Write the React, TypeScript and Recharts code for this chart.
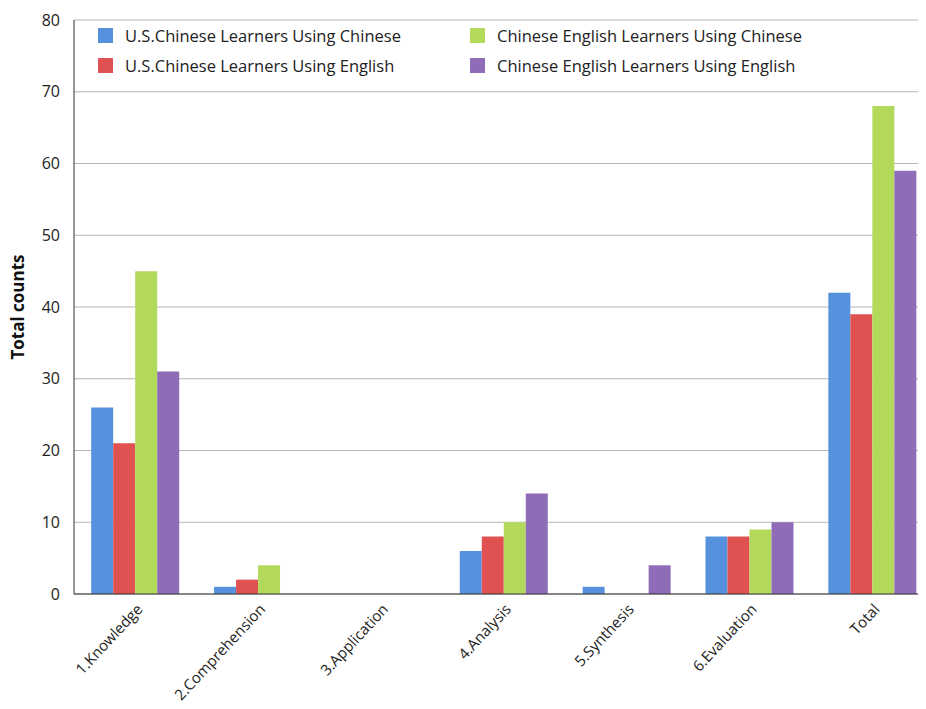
import React from 'react';
import { Bar, BarChart, CartesianGrid, XAxis, YAxis } from 'recharts';

/** Bloom levels on the x axis */
const LEVELS = ['1.Knowledge', '2.Comprehension', '3.Application', '4.Analysis', '5.Synthesis', '6.Evaluation', 'Total'];

const usChinese = [26, 1, 0, 6, 1, 8, 42];
const usEnglish = [21, 2, 0, 8, 0, 8, 39];
const ceChinese = [45, 4, 0, 10, 0, 9, 68];
const ceEnglish = [31, 0, 0, 14, 4, 10, 59];

const Y_TICKS = [0, 10, 20, 30, 40, 50, 60, 70, 80];

const SERIES = [
  { key: 'usChinese', name: 'U.S.Chinese Learners Using Chinese', color: '#5591dd' },
  { key: 'usEnglish', name: 'U.S.Chinese Learners Using English', color: '#e05252' },
  { key: 'ceChinese', name: 'Chinese English Learners Using Chinese', color: '#b3d95b' },
  { key: 'ceEnglish', name: 'Chinese English Learners Using English', color: '#8e6cb8' },
];

const FONT = '"Open Sans", "DejaVu Sans", sans-serif';

const data = LEVELS.map((level, i) => ({
  level,
  usChinese: usChinese[i],
  usEnglish: usEnglish[i],
  ceChinese: ceChinese[i],
  ceEnglish: ceEnglish[i],
}));

// legend sits inside the plot, two columns: blue/red left, green/purple right
function InPlotLegend() {
  const cols = [SERIES.slice(0, 2), SERIES.slice(2, 4)];
  return (
    <div
      style={{
        position: 'absolute',
        top: 20,
        left: 98,
        display: 'flex',
        fontFamily: FONT,
        fontSize: 16.5,
        color: '#222',
        pointerEvents: 'none',
      }}
    >
      {cols.map((col, ci) => (
        <div key={ci} style={{ width: ci === 0 ? 372 : 360 }}>
          {col.map((s) => (
            <div key={s.key} style={{ display: 'flex', alignItems: 'center', height: 30 }}>
              <span style={{ width: 15, height: 15, background: s.color, marginRight: 12, display: 'inline-block' }} />
              <span>{s.name}</span>
            </div>
          ))}
        </div>
      ))}
    </div>
  );
}

function SlantTick({ x, y, payload }: any) {
  const ax = x + 8;
  const ay = y + 8;
  return (
    <text
      x={ax}
      y={ay}
      transform={`rotate(-47, ${ax}, ${ay})`}
      textAnchor="end"
      fontFamily={FONT}
      fontSize={15}
      fill="#222"
    >
      {payload.value}
    </text>
  );
}

export default function App() {
  return (
    <div style={{ position: 'relative', margin: -8, width: 926, height: 709, overflow: 'hidden', background: '#fff' }}>
      <BarChart
        width={934}
        height={709}
        data={data}
        margin={{ top: 20, right: 0, left: 0, bottom: 0 }}
        barGap={0}
        barCategoryGap="14%"
      >
        <CartesianGrid vertical={false} stroke="#b5b5b5" />
        <XAxis
          dataKey="level"
          height={115}
          interval={0}
          tickLine={false}
          axisLine={{ stroke: '#333' }}
          tick={<SlantTick />}
        />
        <YAxis
          width={74}
          domain={[0, 80]}
          ticks={Y_TICKS}
          tickLine={false}
          axisLine={{ stroke: '#333' }}
          tickMargin={8}
          tick={{ fontFamily: FONT, fontSize: 16, fill: '#222' }}
          label={{
            value: 'Total counts',
            angle: -90,
            position: 'insideLeft',
            offset: 18,
            style: { textAnchor: 'middle', fontFamily: FONT, fontSize: 17, fontWeight: 700, fill: '#111' },
          }}
        />
        {SERIES.map((s) => (
          <Bar key={s.key} dataKey={s.key} name={s.name} fill={s.color} isAnimationActive={false} />
        ))}
      </BarChart>
      <InPlotLegend />
    </div>
  );
}
